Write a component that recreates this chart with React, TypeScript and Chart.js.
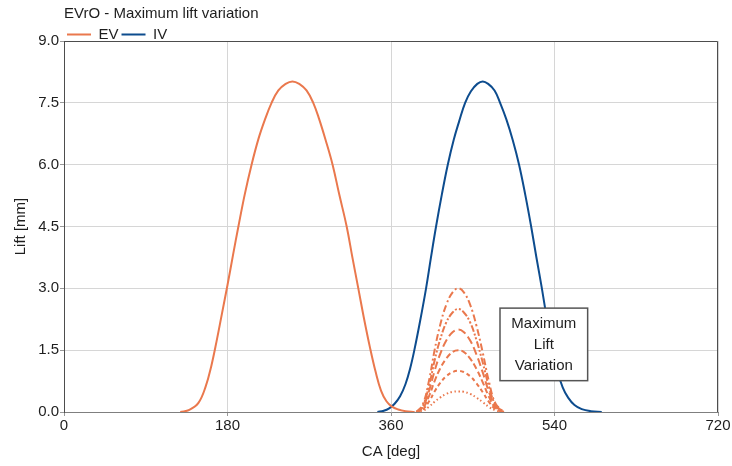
import React, { useEffect, useRef } from "react";
import { Chart, registerables } from "chart.js";

Chart.register(...registerables);

const TITLE = "EVrO - Maximum lift variation";
const X_TITLE = "CA [deg]";
const Y_TITLE = "Lift [mm]";

const EV_CA = [128, 138, 148, 156, 162, 168, 174, 180, 186, 192, 199, 206.5, 214, 221, 228.5, 236, 244, 251.5, 259, 267, 274.4, 281, 288, 295.7, 303, 311.2, 317.5, 324, 330, 337, 343, 349, 355, 361, 368, 376, 386];
const EV_LIFT = [0, 0.05, 0.22, 0.62, 1.1, 1.72, 2.4, 3.08, 3.8, 4.5, 5.28, 6.0, 6.62, 7.08, 7.5, 7.8, 7.96, 8.02, 7.96, 7.8, 7.5, 7.1, 6.6, 6.0, 5.28, 4.5, 3.75, 3.0, 2.3, 1.55, 0.98, 0.52, 0.26, 0.13, 0.06, 0.02, 0];

const IV_CA = [345, 352, 358, 364, 370, 376, 381, 385.7, 392, 398.6, 404, 409.6, 416, 422.5, 429, 435, 441.6, 448, 455, 461, 467, 474, 480.1, 487, 494, 501, 508, 514.3, 520, 526.1, 532, 537.5, 543, 549, 555, 562, 570, 580, 592];
const IV_LIFT = [0, 0.03, 0.09, 0.2, 0.38, 0.68, 1.05, 1.5, 2.2, 3.0, 3.75, 4.5, 5.28, 6.0, 6.6, 7.05, 7.5, 7.78, 7.96, 8.02, 7.96, 7.8, 7.5, 7.1, 6.6, 6.0, 5.25, 4.5, 3.76, 3.0, 2.2, 1.5, 1.0, 0.6, 0.35, 0.17, 0.07, 0.02, 0];

const BUMP_CA = [388, 395, 402, 408, 414, 421, 428, 434, 440, 447, 454, 461, 468, 475, 484];
const BUMP_30 = [0, 0.18, 0.78, 1.5, 2.1, 2.61, 2.91, 3.0, 2.91, 2.61, 2.1, 1.44, 0.72, 0.21, 0];
const BUMP_25 = [0, 0.15, 0.65, 1.25, 1.75, 2.18, 2.42, 2.5, 2.42, 2.18, 1.75, 1.2, 0.6, 0.18, 0];
const BUMP_20 = [0, 0.12, 0.52, 1.0, 1.4, 1.74, 1.94, 2.0, 1.94, 1.74, 1.4, 0.96, 0.48, 0.14, 0];
const BUMP_15 = [0, 0.09, 0.39, 0.75, 1.05, 1.3, 1.46, 1.5, 1.46, 1.3, 1.05, 0.72, 0.36, 0.1, 0];
const BUMP_10 = [0, 0.06, 0.26, 0.5, 0.7, 0.87, 0.97, 1.0, 0.97, 0.87, 0.7, 0.48, 0.24, 0.07, 0];
const BUMP_05 = [0, 0.03, 0.13, 0.25, 0.35, 0.44, 0.49, 0.5, 0.49, 0.44, 0.35, 0.24, 0.12, 0.04, 0];

const NOTE_LINES = ["Maximum", "Lift", "Variation"];
const NOTE_CA = [480, 576.5];
const NOTE_LIFT = [0.76, 2.52];

const EV_COLOR = "#EA784D";
const IV_COLOR = "#0D4C8E";
const TEXT = "#1e1e1e";
const FONT = '"Liberation Sans", Arial, sans-serif';
const FS = 15;

export default function App() {
  const ref = useRef<HTMLCanvasElement>(null);

  useEffect(() => {
    document.body.style.margin = "0";
    const canvas = ref.current!;
    const pts = (xs: number[], ys: number[]) => xs.map((x, i) => ({ x, y: ys[i] }));

    const line = (label: string, xs: number[], ys: number[], color: string, dash: number[]) => ({
      label,
      data: pts(xs, ys),
      borderColor: color,
      backgroundColor: color,
      borderWidth: 2,
      borderDash: dash,
      pointRadius: 0,
      fill: false,
      tension: 0.4,
    });

    const frame = {
      id: "frame",
      beforeDatasetsDraw(chart: any) {
        const { ctx, chartArea: a } = chart;
        ctx.save();
        ctx.strokeStyle = "#4d4d4d";
        ctx.lineWidth = 1;
        ctx.beginPath();
        const t = Math.round(a.top) + 0.5;
        const r = Math.round(a.right) - 0.5;
        ctx.moveTo(a.left, t);
        ctx.lineTo(r, t);
        ctx.lineTo(r, a.bottom);
        ctx.stroke();
        ctx.restore();
      },
    };

    const note = {
      id: "note",
      afterDatasetsDraw(chart: any) {
        const { ctx } = chart;
        const xs = chart.scales.x;
        const ys = chart.scales.y;
        const l = xs.getPixelForValue(NOTE_CA[0]);
        const r = xs.getPixelForValue(NOTE_CA[1]);
        const t = ys.getPixelForValue(NOTE_LIFT[1]);
        const b = ys.getPixelForValue(NOTE_LIFT[0]);
        ctx.save();
        ctx.fillStyle = "#ffffff";
        ctx.fillRect(l, t, r - l, b - t);
        ctx.strokeStyle = "#555555";
        ctx.lineWidth = 1.5;
        ctx.strokeRect(l, t, r - l, b - t);
        ctx.fillStyle = TEXT;
        ctx.font = `${FS}px ${FONT}`;
        ctx.textAlign = "center";
        ctx.textBaseline = "middle";
        const cx = (l + r) / 2;
        const cy = (t + b) / 2;
        const lh = 21;
        NOTE_LINES.forEach((s, i) => {
          ctx.fillText(s, cx, cy + (i - (NOTE_LINES.length - 1) / 2) * lh);
        });
        ctx.restore();
      },
    };

    const chart = new Chart(canvas, {
      type: "line",
      data: {
        datasets: [
          line("EV", EV_CA, EV_LIFT, EV_COLOR, []),
          line("IV", IV_CA, IV_LIFT, IV_COLOR, []),
          line("EV 3.0", BUMP_CA, BUMP_30, EV_COLOR, [7, 3, 2, 3]),
          line("EV 2.5", BUMP_CA, BUMP_25, EV_COLOR, [7, 2, 2, 2, 2, 2]),
          line("EV 2.0", BUMP_CA, BUMP_20, EV_COLOR, [8, 4]),
          line("EV 1.5", BUMP_CA, BUMP_15, EV_COLOR, [6, 3]),
          line("EV 1.0", BUMP_CA, BUMP_10, EV_COLOR, [4, 3]),
          line("EV 0.5", BUMP_CA, BUMP_05, EV_COLOR, [1.5, 2.5]),
        ],
      },
      options: {
        responsive: false,
        animation: false,
        layout: { padding: { left: 0, right: 14, top: 0, bottom: 0 } },
        plugins: {
          tooltip: { enabled: false },
          title: {
            display: true,
            text: TITLE,
            align: "start",
            fullSize: false,
            color: TEXT,
            font: { family: FONT, size: FS, weight: "normal", lineHeight: 1.2 },
            padding: { top: 5, bottom: 1 },
          },
          legend: {
            display: true,
            position: "top",
            align: "start",
            fullSize: false,
            maxHeight: 17,
            labels: {
              boxWidth: 24,
              boxHeight: 0,
              padding: 3,
              color: TEXT,
              font: { family: FONT, size: FS },
              filter: (item: any) => item.datasetIndex < 2,
            },
          },
        },
        scales: {
          x: {
            type: "linear",
            min: 0,
            max: 720,
            afterFit: (s: any) => {
              s.height = 54;
            },
            ticks: { stepSize: 180, color: TEXT, padding: 1, font: { family: FONT, size: FS } },
            grid: { color: "#d6d6d6", tickColor: "#999999", tickLength: 4, lineWidth: 1 },
            border: { color: "#7f7f7f", width: 1 },
            title: {
              display: true,
              text: X_TITLE,
              color: TEXT,
              font: { family: FONT, size: FS },
              padding: { top: 0, bottom: 5 },
            },
          },
          y: {
            type: "linear",
            min: 0,
            max: 9,
            afterFit: (s: any) => {
              s.width = 64;
            },
            ticks: {
              stepSize: 1.5,
              color: TEXT,
              padding: 1,
              font: { family: FONT, size: FS },
              callback: (v: any) => Number(v).toFixed(1),
            },
            grid: { color: "#d6d6d6", tickColor: "#999999", tickLength: 4, lineWidth: 1 },
            border: { color: "#4d4d4d", width: 1 },
            title: {
              display: true,
              text: Y_TITLE,
              color: TEXT,
              font: { family: FONT, size: FS },
              padding: { top: 12, bottom: 0 },
            },
          },
        },
      },
      plugins: [frame, note],
    } as any);

    return () => chart.destroy();
  }, []);

  return (
    <div style={{ width: 732, height: 466 }}>
      <canvas ref={ref} width={732} height={466} style={{ display: "block" }} />
    </div>
  );
}
